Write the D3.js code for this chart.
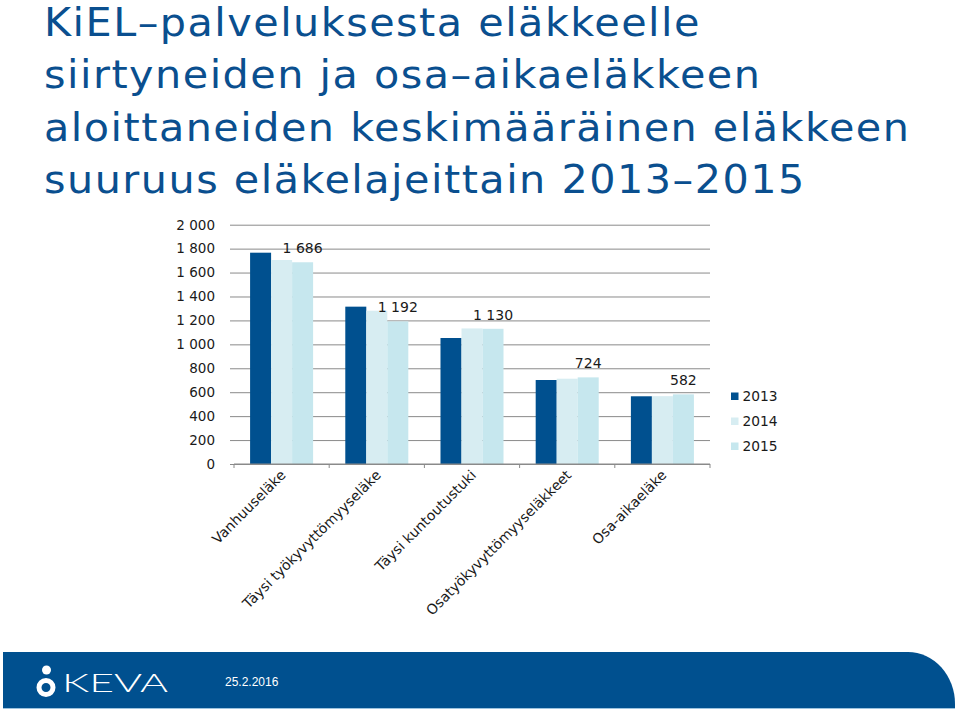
<!DOCTYPE html>
<html>
<head>
<meta charset="utf-8">
<script src="https://cdn.jsdelivr.net/npm/d3@7"></script>
<style>
  body { margin: 0; background: #fff; }
  svg { display: block; font-family: 'DejaVu Sans', Verdana, sans-serif; }
</style>
</head>
<body>
<svg id="chart" width="960" height="711"></svg>
<script>
"use strict";

// chart data
var categories = ['Vanhuuseläke', 'Täysi työkyvyttömyyseläke', 'Täysi kuntoutustuki',
	'Osatyökyvyttömyyseläkkeet', 'Osa-aikaeläke'];
var years = ['2013', '2014', '2015'];
var values2013 = [1766, 1315, 1053, 702, 566];
var values2014 = [1705, 1281, 1133, 713, 567];
var values2015 = [1686, 1192, 1130, 724, 582];
var yTicks = [0, 200, 400, 600, 800, 1000, 1200, 1400, 1600, 1800, 2000];
var titleLines = ['KiEL\u2013palveluksesta eläkkeelle', 'siirtyneiden ja osa\u2013aikaeläkkeen',
	'aloittaneiden keskimääräinen eläkkeen', 'suuruus eläkelajeittain 2013\u20132015'];

var colors = { '2013': '#00508f', '2014': '#d7edf2', '2015': '#c6e7ee' };
var seriesByYear = { '2013': values2013, '2014': values2014, '2015': values2015 };

var svg = d3.select('#chart');
var BLUE = '#00508f';
var TEXT = '#1a1a1a';

// title (slightly widened, the original used Verdana)
svg.append('g')
	.attr('transform', 'translate(44,0) scale(1.06,1)')
	.selectAll('text')
	.data(titleLines)
	.enter()
	.append('text')
	.attr('x', 0)
	.attr('y', (d, i) => 36 + i * 52.5)
	.attr('fill', '#0a4f8f')
	.style('font-size', '39px')
	.style('letter-spacing', '1.4px')
	.text(d => d);

// plot area
var margin = { left: 234, right: 710, top: 224.7, bottom: 464 };
var x0 = d3.scaleBand()
	.domain(categories)
	.range([margin.left, margin.right])
	.paddingInner(0.338)
	.paddingOuter(0.169);
var x1 = d3.scaleBand()
	.domain(years)
	.range([0, x0.bandwidth()]);
var y = d3.scaleLinear()
	.domain([0, 2000])
	.range([margin.bottom, margin.top]);

var fmt = function(v) {
	return d3.format(',')(v).replace(/,/g, ' ');
};

// horizontal grid lines
var gridG = svg.append('g')
	.attr('transform', 'translate(' + (margin.right) + ',0)');
gridG.call(d3.axisLeft(y).tickValues(yTicks).tickSize(margin.right - margin.left + 4).tickFormat(''));
gridG.select('.domain').remove();
gridG.selectAll('line').attr('stroke', '#8a8a8a');

// y labels
svg.append('g').selectAll('text')
	.data(yTicks)
	.enter()
	.append('text')
	.attr('x', 215)
	.attr('y', d => y(d) + 4.8)
	.attr('text-anchor', 'end')
	.attr('fill', TEXT)
	.style('font-size', '13.5px')
	.text(fmt);

// bars
var groups = svg.append('g').selectAll('g')
	.data(categories)
	.enter()
	.append('g')
	.attr('transform', d => 'translate(' + x0(d) + ',0)');

groups.selectAll('rect')
	.data((d, i) => years.map(yr => ({ year: yr, value: seriesByYear[yr][i] })))
	.enter()
	.append('rect')
	.attr('x', d => x1(d.year))
	.attr('y', d => y(d.value))
	.attr('width', x1.bandwidth())
	.attr('height', d => y(0) - y(d.value))
	.attr('fill', d => colors[d.year]);

// data labels for 2015
groups.append('text')
	.attr('x', x1('2015') + x1.bandwidth() / 2)
	.attr('y', (d, i) => y(values2015[i]) - 9)
	.attr('text-anchor', 'middle')
	.attr('fill', TEXT)
	.style('font-size', '14px')
	.text((d, i) => fmt(values2015[i]));

// x axis
var xaxisG = svg.append('g')
	.attr('transform', 'translate(0,' + margin.bottom + ')');
xaxisG.append('line')
	.attr('x1', margin.left).attr('x2', margin.right)
	.attr('stroke', '#8a8a8a');
var boundaries = categories.map(c => x0(c) - x0.step() * x0.paddingInner() / 2);
boundaries.push(margin.right);
xaxisG.selectAll('.tick-x')
	.data(boundaries)
	.enter()
	.append('line')
	.attr('class', 'tick-x')
	.attr('x1', d => d).attr('x2', d => d)
	.attr('y1', 0).attr('y2', 4)
	.attr('stroke', '#8a8a8a');

xaxisG.selectAll('.cat-label')
	.data(categories)
	.enter()
	.append('text')
	.attr('class', 'cat-label')
	.attr('transform', d => 'translate(' + (x0(d) + x0.bandwidth() / 2 + 5) + ',12) rotate(-45)')
	.attr('text-anchor', 'end')
	.attr('fill', TEXT)
	.style('font-size', '14px')
	.text(d => d);

// legend
var legend = svg.append('g').selectAll('g')
	.data(years)
	.enter()
	.append('g')
	.attr('transform', (d, i) => 'translate(731,' + (392.5 + i * 25) + ')');
legend.append('rect')
	.attr('width', 7.5).attr('height', 7.5)
	.attr('fill', d => colors[d]);
legend.append('text')
	.attr('x', 11.5)
	.attr('y', 8.5)
	.attr('fill', TEXT)
	.style('font-size', '13.8px')
	.text(d => d);

// footer band
var footer = svg.append('g');
footer.append('path')
	.attr('d', 'M3,652 H908 A47,52 0 0 1 955,704 V708 H3 Z')
	.attr('fill', BLUE);
footer.append('line')
	.attr('x1', 3).attr('x2', 955)
	.attr('y1', 708.5).attr('y2', 708.5)
	.attr('stroke', '#9cc3df');

// keva logo
footer.append('circle')
	.attr('cx', 46.5).attr('cy', 670).attr('r', 4.5)
	.attr('fill', '#fff');
footer.append('circle')
	.attr('cx', 46).attr('cy', 687.5).attr('r', 7)
	.attr('fill', 'none')
	.attr('stroke', '#fff')
	.attr('stroke-width', 5);
footer.append('text')
	.attr('x', 62)
	.attr('y', 692)
	.attr('fill', '#fff')
	.attr('textLength', 106)
	.attr('lengthAdjust', 'spacingAndGlyphs')
	.style('font-family', 'Lato, sans-serif')
	.style('font-weight', 300)
	.style('font-size', '25px')
	.text('KEVA');

footer.append('text')
	.attr('x', 225)
	.attr('y', 686)
	.attr('fill', '#fff')
	.style('font-family', '"Liberation Sans", Arial, sans-serif')
	.style('font-size', '12px')
	.text('25.2.2016');
</script>
</body>
</html>
